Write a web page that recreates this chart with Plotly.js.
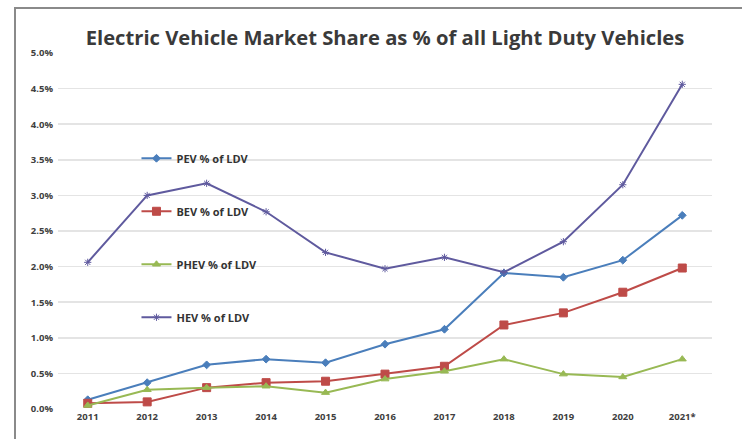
<!DOCTYPE html>
<html><head><meta charset="utf-8">
<script src="https://cdn.plot.ly/plotly-3.0.1.min.js"></script>
<style>
html,body{margin:0;padding:0;background:#fff;overflow:hidden;}
#chart{position:absolute;left:0;top:0;width:746px;height:439px;}
</style></head>
<body>
<div id="chart"></div>
<script>
const years = ['2011','2012','2013','2014','2015','2016','2017','2018','2019','2020','2021*'];
const pev  = [0.13,0.37,0.62,0.70,0.65,0.91,1.12,1.91,1.85,2.09,2.72];
const bev  = [0.08,0.10,0.30,0.37,0.39,0.49,0.60,1.18,1.35,1.64,1.98];
const phev = [0.05,0.27,0.30,0.32,0.23,0.42,0.53,0.70,0.49,0.45,0.70];
const hev  = [2.06,3.00,3.17,2.77,2.20,1.97,2.13,1.92,2.35,3.15,4.56];
const yTicks = [0,0.5,1,1.5,2,2.5,3,3.5,4,4.5,5];

const series = [
  {name:'PEV % of LDV', y:pev, color:'#4a7ebb', symbol:'diamond', size:6},
  {name:'BEV % of LDV', y:bev, color:'#be4b48', symbol:'square', size:8},
  {name:'PHEV % of LDV', y:phev, color:'#98b954', symbol:'triangle-up', size:7},
  {name:'HEV % of LDV', y:hev, color:'#5f5a9e', symbol:'asterisk-open', size:6}
];
const traces = series.map((s,i)=>({
  type:'scatter', mode:'lines+markers', x:years, y:s.y, name:'<b>'+s.name+'</b>',
  legendgroup:'g'+i,
  line:{color:s.color, width:2},
  marker:{color:s.color, symbol:s.symbol, size:s.size, line:{color:s.color, width:1}}
}));
const layout = {
  width:746, height:439,
  margin:{l:58, r:34, t:53, b:30},
  paper_bgcolor:'#ffffff', plot_bgcolor:'rgba(0,0,0,0)',
  font:{family:'Open Sans, sans-serif', color:'#404040'},
  title:{text:'<b>Electric Vehicle Market Share as % of all Light Duty Vehicles</b>',
    x:0.5, xref:'paper', xanchor:'center', y:0.93, yref:'container',
    font:{size:20.2, color:'#3a3a3a', family:'Open Sans, sans-serif'}},
  xaxis:{type:'category', range:[-0.5,10.5], showgrid:false, zeroline:false,
    tickvals:years, ticktext:years.map(v=>'<b>'+v+'</b>'),
    showline:false, ticks:'', tickfont:{size:9.5, color:'#404040'}},
  yaxis:{range:[0,5], tickvals:yTicks, ticktext:yTicks.map(v=>'<b>'+v.toFixed(1)+'%</b>'),
    showgrid:true, gridcolor:'#e4e4e4', gridwidth:1.5, zeroline:false, showline:false,
    ticks:'', tickfont:{size:9.5, color:'#404040'}, ticklabelstandoff:4},
  legend:{x:0.12, y:0.745, xanchor:'left', yanchor:'top', bgcolor:'rgba(0,0,0,0)',
    traceorder:'grouped', tracegroupgap:34, itemwidth:30,
    font:{size:11, color:'#333'}},
  shapes:[
    {type:'line', xref:'paper', yref:'paper', x0:(14-58)/654, x1:(742-58)/654,
     y0:(409-8)/356, y1:(409-8)/356, line:{color:'#8a8a8a', width:2}},
    {type:'line', xref:'paper', yref:'paper', x0:(15-58)/654, x1:(15-58)/654,
     y0:(409-7)/356, y1:(409-439)/356, line:{color:'#8a8a8a', width:2}}
  ],
  showlegend:true
};
Plotly.newPlot('chart', traces, layout, {displayModeBar:false, staticPlot:true});
</script>
</body></html>
